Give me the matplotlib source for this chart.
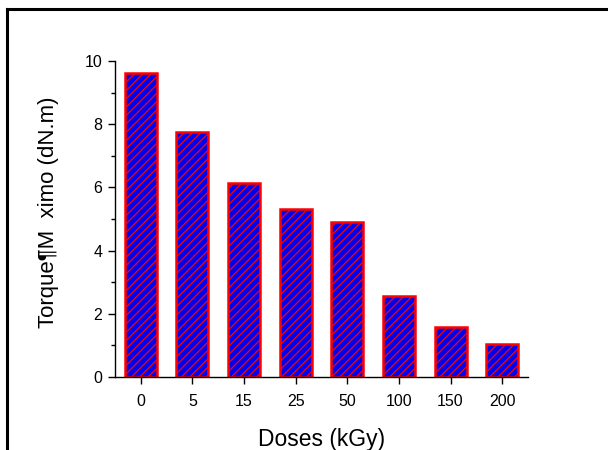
import matplotlib
matplotlib.use("Agg")
import matplotlib.pyplot as plt
from matplotlib.lines import Line2D

categories = ["0", "5", "15", "25", "50", "100", "150", "200"]
torque = [9.61, 7.75, 6.15, 5.33, 4.90, 2.56, 1.59, 1.05]

plt.rcParams['font.family'] = ['Liberation Sans', 'DejaVu Sans']
plt.rcParams['hatch.linewidth'] = 0.9

fig = plt.figure(figsize=(6.08, 4.5), dpi=100)
ax = fig.add_axes([115/608, 73/450, (528-115)/608, (377-61)/450])

x = list(range(len(categories)))
ax.bar(x, torque, width=0.62, color='#0000ee', edgecolor='red',
       linewidth=1.8, hatch='////')

ax.set_xlim(-0.5, len(categories) - 0.5)
ax.set_ylim(0, 10)
ax.set_xticks(x)
ax.set_xticklabels(categories)
ax.set_yticks([0, 2, 4, 6, 8, 10])
ax.set_yticks([1, 3, 5, 7, 9], minor=True)
for s in ['top', 'right']:
    ax.spines[s].set_visible(False)
for s in ['left', 'bottom']:
    ax.spines[s].set_linewidth(1.0)
ax.tick_params(axis='both', which='major', direction='out', length=5, width=1, labelsize=11.5)
ax.tick_params(axis='y', which='major', pad=4)
ax.tick_params(axis='x', which='major', pad=7)
ax.tick_params(axis='y', which='minor', direction='out', length=3, width=1)

ax.set_xlabel("Doses (kGy)", fontsize=16.5, labelpad=14)
ax.set_ylabel("Torque¶M  ximo (dN.m)", fontsize=16)
ax.yaxis.set_label_coords(-0.135, 0.52)

fig.add_artist(Line2D([7/608, 7/608], [0, 1 - 9/450], transform=fig.transFigure, color='black', linewidth=2.2))
fig.add_artist(Line2D([7/608, 1], [1 - 9/450, 1 - 9/450], transform=fig.transFigure, color='black', linewidth=2.2))

fig.savefig("out.png", dpi=100)
